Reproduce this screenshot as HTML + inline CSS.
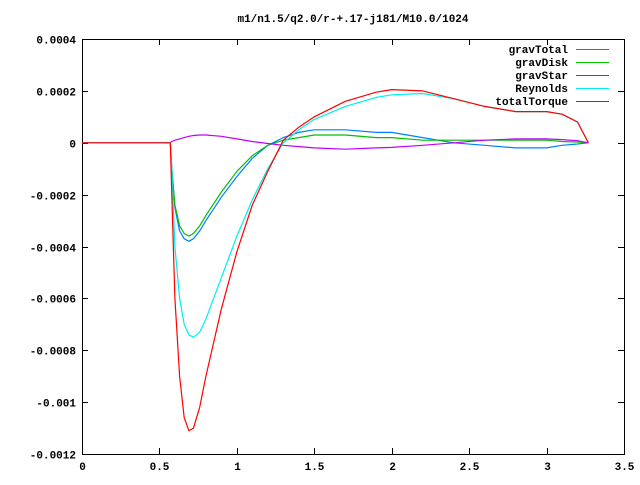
<!DOCTYPE html>
<html><head><meta charset="utf-8"><style>
body{margin:0;background:#fff}
svg text{font-family:"Liberation Mono","DejaVu Sans Mono",monospace;font-size:11px;font-weight:bold;fill:#000}
</style></head><body>
<svg id="chart" width="640" height="480" viewBox="0 0 640 480" shape-rendering="crispEdges">
<rect width="640" height="480" fill="#fff"/>
<text x="353" y="22" text-anchor="middle">m1/n1.5/q2.0/r-+.17-j181/M10.0/1024</text>
<g id="axes"></g>
<g id="series"></g>
<g id="legend"></g>
</svg>
<script>
const xVals=[0,0.57,0.58,0.6,0.63,0.66,0.69,0.72,0.76,0.8,0.9,1.0,1.1,1.2,1.3,1.4,1.5,1.7,1.9,2.0,2.2,2.4,2.6,2.8,3.0,3.1,3.2,3.27];
const gravTotal=[0,0,-0.0001,-0.00025,-0.00034,-0.00037,-0.00038,-0.00037,-0.00034,-0.0003,-0.00021,-0.00013,-0.00006,-0.00001,0.00002,0.00004,0.00005,0.00005,0.00004,0.00004,0.00002,0,-0.00001,-0.00002,-0.00002,-0.00001,-0.000005,0];
const gravDisk=[0,0,-0.0001,-0.00024,-0.00032,-0.00035,-0.00036,-0.00035,-0.00032,-0.00028,-0.00019,-0.00011,-0.00005,-0.00001,0.00001,0.00002,0.00003,0.00003,0.00002,0.00002,0.00001,0.00001,0.00001,0.00001,0.00001,0.000005,0.000003,0];
const gravStar=[0,0,0.000005,0.00001,0.000015,0.00002,0.000025,0.000028,0.00003,0.00003,0.000025,0.000015,0.000005,-0.000003,-0.00001,-0.000015,-0.00002,-0.000025,-0.00002,-0.000018,-0.00001,0,0.00001,0.000015,0.000015,0.000012,0.000008,0];
const reynolds=[0,0,-0.0001,-0.0004,-0.0006,-0.0007,-0.00074,-0.00075,-0.00073,-0.00068,-0.00052,-0.00036,-0.00022,-0.0001,0,0.00005,0.00009,0.00014,0.000175,0.000185,0.00019,0.00017,0.00014,0.00012,0.00012,0.00011,0.00008,0];
const totalTorque=[0,0,-0.0002,-0.0006,-0.0009,-0.00106,-0.00111,-0.0011,-0.00102,-0.0009,-0.00064,-0.00042,-0.00024,-0.00011,0.00001,0.00006,0.0001,0.00016,0.000195,0.000205,0.0002,0.00017,0.00014,0.00012,0.00012,0.00011,0.00008,0];
const xTicks=[0,0.5,1,1.5,2,2.5,3,3.5];
const xTickLabels=["0","0.5","1","1.5","2","2.5","3","3.5"];
const yTicks=[0.0004,0.0002,0,-0.0002,-0.0004,-0.0006,-0.0008,-0.001,-0.0012];
const yTickLabels=["0.0004","0.0002","0","-0.0002","-0.0004","-0.0006","-0.0008","-0.001","-0.0012"];
const seriesNames=["gravTotal","gravDisk","gravStar","Reynolds","totalTorque"];
const seriesColors=["#0080ff","#00c000","#c000ff","#00eeee","#ff0000"];

const L=82,R=624,T=39,B=454;
const sx=v=>L+v/3.5*(R-L);
const sy=v=>T+(0.0004-v)/0.0016*(B-T);
const NS="http://www.w3.org/2000/svg";
function mk(t,a,p){const e=document.createElementNS(NS,t);for(const k in a)e.setAttribute(k,a[k]);p.appendChild(e);return e;}
const ax=document.getElementById('axes');
xTicks.forEach((v,i)=>{
  const x=Math.round(sx(v))+0.5;
  let t=mk('line',{x1:x,x2:x,y1:B,y2:B-6,stroke:'#000'},ax);
  
  t=mk('line',{x1:x,x2:x,y1:T,y2:T+6,stroke:'#000'},ax);
  
  const l=mk('text',{x:x,y:B+16,'text-anchor':'middle'},ax);l.textContent=xTickLabels[i];
  
});
yTicks.forEach((v,i)=>{
  const y=Math.round(sy(v))+0.5;
  let t=mk('line',{x1:L,x2:L+6,y1:y,y2:y,stroke:'#000'},ax);
  
  t=mk('line',{x1:R,x2:R-6,y1:y,y2:y,stroke:'#000'},ax);
  
  const l=mk('text',{x:L-6,y:y+4,'text-anchor':'end'},ax);l.textContent=yTickLabels[i];
  
});
const fr=mk('rect',{x:L+0.5,y:T+0.5,width:R-L,height:B-T,fill:'none',stroke:'#000'},ax);

const sg=document.getElementById('series');
[gravTotal,gravDisk,gravStar,reynolds,totalTorque].forEach((d,i)=>{
  const pts=xVals.map((x,j)=>sx(x).toFixed(1)+','+sy(d[j]).toFixed(1)).join(' ');
  const p=mk('polyline',{points:pts,fill:'none',stroke:seriesColors[i],'stroke-width':1.2,'stroke-linejoin':'round','shape-rendering':'auto'},sg);
  
  
});
const lg=document.getElementById('legend');
seriesNames.forEach((n,i)=>{
  const y=49+i*13;
  const t=mk('text',{x:568,y:y+4,'text-anchor':'end'},lg);t.textContent=n;
  
  const l=mk('rect',{x:576,y:y,width:33,height:1.2,fill:seriesColors[i]},lg);
  
});
</script>
</body></html>
